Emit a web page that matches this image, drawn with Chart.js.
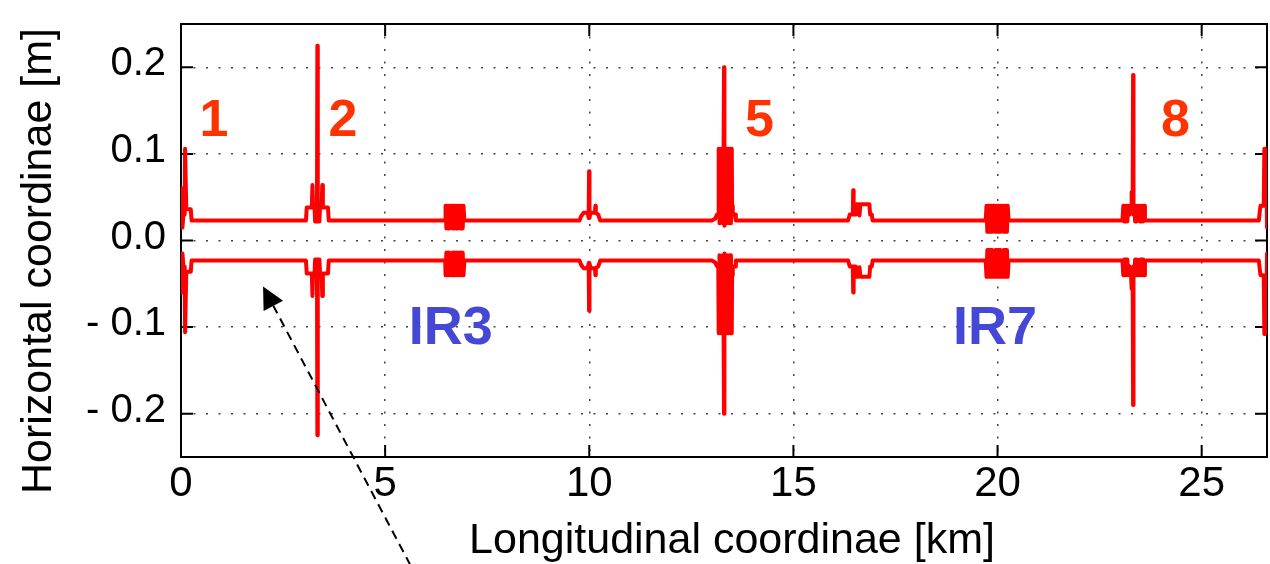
<!DOCTYPE html>
<html>
<head>
<meta charset="utf-8">
<script src="https://cdn.jsdelivr.net/npm/chart.js@4.4.1/dist/chart.umd.min.js"></script>
<style>
  html, body { margin: 0; padding: 0; background: #ffffff; }
  #wrap { width: 1270px; height: 564px; position: relative; }
</style>
</head>
<body>
<div id="wrap"><canvas id="c" width="1270" height="564"></canvas></div>
<script>
// ---------------- DATA ----------------
// Longitudinal coordinate of each sample [km]
const sKm = [
  // IP1
  0.000, 0.010, 0.025, 0.035, 0.060, 0.090, 0.100, 0.120, 0.130, 0.240, 0.260,
  // IR2
  3.060, 3.080, 3.205, 3.220, 3.235, 3.270, 3.285, 3.330, 3.340, 3.350, 3.390, 3.405, 3.445, 3.460, 3.475, 3.600, 3.620,
  // IR3
  6.47, 6.48, 6.50, 6.52, 6.54, 6.56, 6.58, 6.60, 6.62, 6.64, 6.66, 6.68, 6.70, 6.72, 6.74, 6.76, 6.78, 6.80, 6.82, 6.84, 6.86, 6.88, 6.90, 6.92, 6.94,
  // IR4
  9.760, 9.800, 9.860, 9.960, 9.985, 9.995, 10.005, 10.030, 10.140, 10.150, 10.160, 10.220, 10.270,
  // IP5
  13.00, 13.08, 13.13, 13.16, 13.17, 13.19, 13.21, 13.23, 13.25, 13.27, 13.29, 13.30, 13.31, 13.33, 13.35, 13.37, 13.39, 13.41, 13.43, 13.45, 13.47, 13.49, 13.50, 13.51, 13.52, 13.57, 13.59,
  // IR6
  16.340, 16.380, 16.455, 16.465, 16.475, 16.530, 16.550, 16.600, 16.620, 16.640, 16.860, 16.880, 16.920, 16.940,
  // IR7
  19.71, 19.73, 19.75, 19.77, 19.79, 19.81, 19.83, 19.85, 19.87, 19.89, 19.91, 19.93, 19.95, 19.97, 19.99, 20.01, 20.03, 20.05, 20.07, 20.09, 20.11, 20.13, 20.15, 20.17, 20.19, 20.21, 20.23, 20.25, 20.27,
  // IR8
  23.06, 23.08, 23.10, 23.12, 23.14, 23.16, 23.18, 23.20, 23.22, 23.24, 23.27, 23.28, 23.29, 23.31, 23.32, 23.33, 23.35, 23.37, 23.39, 23.41, 23.43, 23.45, 23.47, 23.49, 23.51, 23.53, 23.55, 23.57, 23.59, 23.61,
  // IP1 (end of ring)
  26.400, 26.420, 26.440, 26.520, 26.535, 26.550, 26.580, 26.590, 26.600
];

// Upper envelope [m]
const upperM = [
  0.015, 0.060, 0.060, 0.015, 0.030, 0.030, 0.106, 0.106, 0.036, 0.036, 0.023,
  0.023, 0.038, 0.038, 0.064, 0.038, 0.038, 0.022, 0.022, 0.225, 0.022, 0.022, 0.038, 0.038, 0.064, 0.038, 0.038, 0.023,
  0.023, 0.040, 0.014, 0.040, 0.014, 0.040, 0.014, 0.040, 0.026, 0.040, 0.014, 0.040, 0.014, 0.040, 0.014, 0.040, 0.026, 0.040, 0.014, 0.040, 0.014, 0.040, 0.014, 0.040, 0.023,
  0.023, 0.028, 0.032, 0.032, 0.026, 0.080, 0.026, 0.032, 0.032, 0.040, 0.032, 0.030, 0.023,
  0.023, 0.025, 0.030, 0.030, 0.106, 0.020, 0.106, 0.040, 0.106, 0.020, 0.106, 0.200, 0.017, 0.106, 0.020, 0.106, 0.040, 0.106, 0.020, 0.106, 0.020, 0.106, 0.030, 0.040, 0.030, 0.030, 0.023,
  0.023, 0.030, 0.030, 0.058, 0.030, 0.030, 0.042, 0.042, 0.029, 0.042, 0.042, 0.030, 0.030, 0.023,
  0.023, 0.040, 0.010, 0.040, 0.010, 0.040, 0.010, 0.040, 0.010, 0.040, 0.022, 0.040, 0.010, 0.040, 0.010, 0.040, 0.010, 0.040, 0.010, 0.040, 0.022, 0.040, 0.010, 0.040, 0.010, 0.040, 0.010, 0.040, 0.023,
  0.023, 0.040, 0.022, 0.040, 0.022, 0.040, 0.022, 0.040, 0.030, 0.040, 0.040, 0.056, 0.040, 0.040, 0.191, 0.030, 0.040, 0.022, 0.040, 0.022, 0.040, 0.030, 0.040, 0.022, 0.040, 0.022, 0.040, 0.022, 0.040, 0.023,
  0.023, 0.032, 0.040, 0.040, 0.106, 0.040, 0.040, 0.062, 0.015
];

// Lower envelope [m]
const lowerM = [
  -0.015, -0.060, -0.060, -0.015, -0.030, -0.030, -0.106, -0.106, -0.036, -0.036, -0.023,
  -0.023, -0.038, -0.038, -0.064, -0.038, -0.038, -0.022, -0.022, -0.225, -0.022, -0.022, -0.038, -0.038, -0.064, -0.038, -0.038, -0.023,
  -0.023, -0.040, -0.014, -0.040, -0.014, -0.040, -0.014, -0.040, -0.026, -0.040, -0.014, -0.040, -0.014, -0.040, -0.014, -0.040, -0.026, -0.040, -0.014, -0.040, -0.014, -0.040, -0.014, -0.040, -0.023,
  -0.023, -0.028, -0.032, -0.032, -0.026, -0.081, -0.026, -0.032, -0.032, -0.040, -0.032, -0.030, -0.023,
  -0.023, -0.025, -0.030, -0.030, -0.107, -0.017, -0.107, -0.040, -0.107, -0.017, -0.107, -0.200, -0.015, -0.107, -0.017, -0.107, -0.040, -0.107, -0.017, -0.107, -0.017, -0.107, -0.030, -0.040, -0.030, -0.030, -0.023,
  -0.023, -0.030, -0.030, -0.060, -0.030, -0.030, -0.042, -0.042, -0.031, -0.042, -0.042, -0.030, -0.030, -0.023,
  -0.023, -0.042, -0.011, -0.042, -0.011, -0.042, -0.011, -0.042, -0.011, -0.042, -0.022, -0.042, -0.011, -0.042, -0.011, -0.042, -0.011, -0.042, -0.011, -0.042, -0.022, -0.042, -0.011, -0.042, -0.011, -0.042, -0.011, -0.042, -0.023,
  -0.023, -0.040, -0.022, -0.040, -0.022, -0.040, -0.022, -0.040, -0.030, -0.040, -0.040, -0.056, -0.040, -0.040, -0.190, -0.030, -0.040, -0.022, -0.040, -0.022, -0.040, -0.030, -0.040, -0.022, -0.040, -0.022, -0.040, -0.022, -0.040, -0.023,
  -0.023, -0.032, -0.040, -0.040, -0.108, -0.040, -0.040, -0.062, -0.015
];

// Axis ticks
const xTicks = [0, 5, 10, 15, 20, 25];
const xTickLabels = ['0', '5', '10', '15', '20', '25'];
const yTicks = [-0.2, -0.1, 0.0, 0.1, 0.2];
const yTickLabels = ['- 0.2', '- 0.1', '0.0', '0.1', '0.2'];

// Annotations (text, anchor in data coordinates)
const ipLabels = [
  { text: '1', s: 0.81, y: 0.121 },
  { text: '2', s: 3.97, y: 0.121 },
  { text: '5', s: 14.17, y: 0.121 },
  { text: '8', s: 24.36, y: 0.121 }
];
const irLabels = [
  { text: 'IR3', s: 6.61, y: -0.119 },
  { text: 'IR7', s: 19.94, y: -0.119 }
];
// Dashed arrow: tail and head (data coordinates)
const arrowTail = { s: 5.62, y: -0.375 };
const arrowHead = { s: 2.01, y: -0.053 };

// ---------------- CHART ----------------
const FONT = "'Liberation Sans', Arial, Helvetica, sans-serif";
Chart.defaults.font.family = FONT;
Chart.defaults.color = '#000';

const toPts = (ys) => sKm.map((s, i) => ({ x: s, y: ys[i] }));

const framePlugin = {
  id: 'frame',
  beforeDatasetsDraw(chart) {
    const { ctx, chartArea: { left, right, top, bottom }, scales: { x, y } } = chart;
    ctx.save();
    ctx.strokeStyle = '#000';
    ctx.lineWidth = 2;
    ctx.beginPath();
    xTicks.forEach(v => {
      const px = x.getPixelForValue(v);
      ctx.moveTo(px, bottom); ctx.lineTo(px, bottom - 12);
      ctx.moveTo(px, top); ctx.lineTo(px, top + 12);
    });
    yTicks.forEach(v => {
      const py = y.getPixelForValue(v);
      ctx.moveTo(left, py); ctx.lineTo(left + 12, py);
      ctx.moveTo(right, py); ctx.lineTo(right - 12, py);
    });
    ctx.stroke();
    ctx.strokeRect(left, top, right - left, bottom - top);
    ctx.restore();
  },
  afterDraw(chart) {
    const { ctx, scales: { x, y } } = chart;
    ctx.save();
    // IP numbers
    ctx.fillStyle = '#ff3300';
    ctx.font = 'bold 52px ' + FONT;
    ctx.textAlign = 'center';
    ctx.textBaseline = 'alphabetic';
    ipLabels.forEach(l => ctx.fillText(l.text, x.getPixelForValue(l.s), y.getPixelForValue(l.y)));
    // IR labels
    ctx.fillStyle = '#4448d4';
    ctx.font = 'bold 54px ' + FONT;
    irLabels.forEach(l => ctx.fillText(l.text, x.getPixelForValue(l.s), y.getPixelForValue(l.y)));

    // Axis titles
    ctx.fillStyle = '#000';
    ctx.font = '43px ' + FONT;
    ctx.textAlign = 'center';
    ctx.fillText('Longitudinal coordinae [km]', 732, 553);
    ctx.save();
    ctx.translate(51, 261);
    ctx.rotate(-Math.PI / 2);
    ctx.fillText('Horizontal coordinae [m]', 0, 0);
    ctx.restore();

    // Dashed arrow
    const tx = x.getPixelForValue(arrowTail.s), ty = y.getPixelForValue(arrowTail.y);
    const hx = x.getPixelForValue(arrowHead.s), hy = y.getPixelForValue(arrowHead.y);
    const dx = hx - tx, dy = hy - ty, len = Math.hypot(dx, dy);
    const ux = dx / len, uy = dy / len;
    const headLen = 22, headHalf = 11;
    const bx = hx - ux * headLen, by = hy - uy * headLen;
    ctx.strokeStyle = '#000';
    ctx.lineWidth = 2;
    ctx.setLineDash([9, 6]);
    ctx.beginPath();
    ctx.moveTo(tx, ty);
    ctx.lineTo(bx, by);
    ctx.stroke();
    ctx.setLineDash([]);
    ctx.fillStyle = '#000';
    ctx.beginPath();
    ctx.moveTo(hx, hy);
    ctx.lineTo(bx - uy * headHalf, by + ux * headHalf);
    ctx.lineTo(bx + uy * headHalf, by - ux * headHalf);
    ctx.closePath();
    ctx.fill();
    ctx.restore();
  }
};

const lineStyle = {
  borderColor: '#ff0000',
  backgroundColor: '#ff0000',
  borderWidth: 4,
  pointRadius: 0,
  tension: 0,
  fill: false,
  borderJoinStyle: 'round',
  borderCapStyle: 'round'
};

new Chart(document.getElementById('c'), {
  type: 'line',
  data: {
    datasets: [
      Object.assign({ label: 'upper', data: toPts(upperM) }, lineStyle),
      Object.assign({ label: 'lower', data: toPts(lowerM) }, lineStyle)
    ]
  },
  options: {
    responsive: false,
    animation: false,
    devicePixelRatio: 1,
    parsing: false,
    layout: { padding: { top: 24, right: 3, left: 0, bottom: 0 } },
    plugins: { legend: { display: false }, tooltip: { enabled: false }, title: { display: false } },
    scales: {
      x: {
        type: 'linear',
        min: 0,
        max: 26.6,
        afterBuildTicks: (axis) => { axis.ticks = xTicks.map(v => ({ value: v })); },
        afterFit: (scale) => { scale.height = 107; scale.paddingLeft = 0; scale.paddingRight = 0; },
        ticks: {
          autoSkip: false,
          maxRotation: 0,
          padding: 2,
          font: { size: 42 },
          color: '#000',
          callback: (v) => { const i = xTicks.indexOf(v); return i >= 0 ? xTickLabels[i] : ''; }
        },
        grid: { color: '#444', lineWidth: 1.5, drawTicks: false },
        border: { display: false, dash: [2, 10.5] }
      },
      y: {
        type: 'linear',
        min: -0.25,
        max: 0.25,
        afterBuildTicks: (axis) => { axis.ticks = yTicks.map(v => ({ value: v })); },
        afterFit: (scale) => { scale.width = 181; scale.paddingTop = 0; scale.paddingBottom = 0; },
        ticks: {
          autoSkip: false,
          padding: 15,
          labelOffset: -3,
          font: { size: 40 },
          color: '#000',
          callback: (v) => {
            let i = -1;
            yTicks.forEach((t, k) => { if (Math.abs(t - v) < 1e-9) i = k; });
            return i >= 0 ? yTickLabels[i] : '';
          }
        },
        grid: { color: '#444', lineWidth: 1.5, drawTicks: false },
        border: { display: false, dash: [2, 10.5] }
      }
    }
  },
  plugins: [framePlugin]
});
</script>
</body>
</html>
